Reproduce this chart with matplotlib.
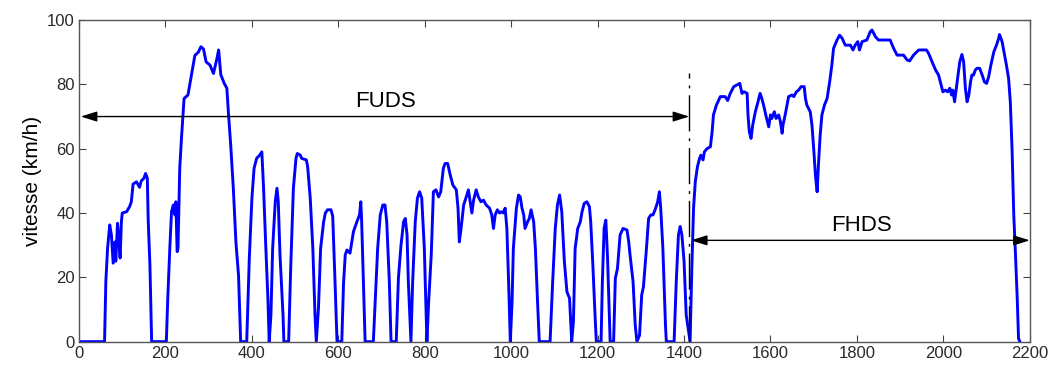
import matplotlib
matplotlib.use("Agg")
import matplotlib.pyplot as plt

plt.rcParams["font.family"] = ["Liberation Sans", "DejaVu Sans"]

# speed profile: time (s) and speed (km/h)
t_fuds = [0, 59, 62, 66, 71, 75, 79, 83, 85, 89, 92, 95, 98, 100, 110, 117, 121,
          125, 133, 140, 144, 150, 154, 158, 160, 164, 168, 202, 205, 210, 214,
          218, 222, 224, 227, 229, 233, 237, 243, 252, 256, 264, 268, 276, 282,
          288, 294, 303, 311, 319, 323, 328, 336, 342, 346, 351, 357, 363, 369,
          374, 388, 394, 400, 405, 411, 418, 423, 427, 432, 437, 440, 444, 448,
          454, 458, 461, 465, 472, 474, 485, 490, 496, 502, 505, 512, 515, 526,
          529, 535, 541, 546, 549, 554, 559, 566, 570, 575, 583, 587, 592, 597,
          608, 612, 616, 620, 627, 635, 643, 649, 652, 654, 658, 662, 681, 691,
          697, 703, 708, 712, 718, 722, 734, 739, 745, 751, 755, 759, 762, 768,
          772, 778, 783, 788, 793, 799, 805, 809, 815, 820, 826, 832, 837, 843,
          847, 853, 859, 865, 873, 877, 880, 884, 890, 896, 901, 905, 909, 913,
          919, 924, 930, 936, 942, 950, 955, 959, 963, 968, 973, 978, 982, 986,
          990, 994, 998, 1002, 1005, 1012, 1017, 1021, 1025, 1029, 1032, 1038,
          1042, 1046, 1052, 1056, 1061, 1065, 1090, 1096, 1102, 1107, 1112, 1117,
          1123, 1129, 1135, 1140, 1144, 1148, 1154, 1160, 1164, 1169, 1175, 1181,
          1184, 1189, 1194, 1197, 1208, 1211, 1215, 1219, 1223, 1227, 1229, 1237,
          1241, 1246, 1252, 1259, 1268, 1272, 1275, 1282, 1287, 1291, 1297, 1302,
          1306, 1313, 1318, 1323, 1328, 1333, 1339, 1343, 1346, 1351, 1357, 1359,
          1377, 1382, 1387, 1391, 1395, 1400, 1405, 1414]
v_fuds = [0, 0, 18.7, 29, 36.3, 33, 24.4, 31, 25, 36.8, 32, 26, 37.3, 40, 40.4,
          42, 43.5, 49, 49.7, 48, 50, 50.8, 52.3, 50.8, 38, 23.8, 0, 0, 12.4, 29,
          40.4, 42.5, 39.4, 43.5, 28, 29, 53.9, 63.2, 75.6, 76.7, 79.8, 86, 89,
          90, 91.7, 91, 87, 86, 83.4, 88, 90.7, 83, 80.3, 78.8, 70.5, 61, 47.7,
          31, 20.7, 0, 0, 26, 44.6, 53.9, 57, 58, 59, 47.7, 30, 13.5, 0, 8.3, 29,
          43.5, 47.7, 43.5, 27, 8.3, 0, 0, 23.8, 47.7, 57, 58.5, 58, 57, 56.5,
          54.4, 44.6, 29, 8.3, 0, 10.4, 29, 37.3, 40, 41, 41, 39, 20, 0, 0, 18,
          27, 28.5, 27.5, 34.2, 37.3, 39.4, 43.5, 37.3, 18.7, 0, 0, 29, 39.4,
          42.5, 42.5, 37.3, 18.7, 0, 0, 19.7, 30, 37.3, 38.3, 33.2, 18.7, 0,
          18.7, 37.3, 44.6, 46.6, 44.6, 29, 0, 12.4, 27, 46.6, 47.2, 45, 46.6,
          53.9, 55.4, 55.4, 51.8, 48.7, 47.2, 41.5, 31, 35.2, 42.5, 45, 47.2,
          43.5, 40, 44, 47.2, 45, 43.5, 44, 42.5, 41.5, 39.4, 35.2, 39.4, 41, 40,
          40.4, 40, 41.5, 35.2, 18.7, 0, 12.4, 29, 41.5, 45.6, 45, 41.5, 39.4,
          35.2, 37.3, 38.3, 41, 37.3, 29, 12.4, 0, 0, 18.7, 35.2, 42.5, 45.6,
          40.5, 25, 15.5, 13.5, 0, 6.2, 29, 35.2, 37.3, 40.4, 43, 43.5, 42, 37.3,
          23.8, 8.3, 0, 0, 18.7, 35.2, 37.8, 26, 8.3, 0, 0, 19.7, 22.8, 33.2,
          35.2, 34.7, 31, 27, 18.7, 5.2, 0, 2, 14.5, 17, 29, 38.3, 39.4, 39.4,
          41, 43.5, 46.6, 41.5, 29, 5.2, 0, 0, 18.7, 33.2, 35.8, 33.2, 25, 8.3, 0]

t_fhds = [1418, 1422, 1426, 1431, 1436, 1439, 1444, 1447, 1453, 1461, 1465, 1468,
          1475, 1484, 1495, 1501, 1507, 1515, 1522, 1529, 1534, 1539, 1546, 1548,
          1551, 1555, 1559, 1565, 1570, 1576, 1580, 1584, 1590, 1593, 1596, 1600,
          1603, 1609, 1613, 1619, 1623, 1627, 1629, 1634, 1642, 1650, 1654, 1660,
          1665, 1671, 1678, 1681, 1684, 1692, 1696, 1700, 1704, 1708, 1711, 1715,
          1719, 1725, 1731, 1737, 1742, 1746, 1754, 1760, 1766, 1773, 1785, 1791,
          1796, 1802, 1806, 1812, 1823, 1831, 1835, 1843, 1850, 1866, 1877, 1885,
          1893, 1908, 1916, 1922, 1931, 1943, 1961, 1966, 1974, 1982, 1989, 1995,
          1999, 2005, 2010, 2015, 2019, 2022, 2026, 2030, 2034, 2038, 2043, 2047,
          2051, 2055, 2059, 2063, 2066, 2070, 2074, 2078, 2084, 2090, 2095, 2100,
          2105, 2110, 2117, 2123, 2128, 2130, 2136, 2141, 2146, 2151, 2155, 2159,
          2163, 2167, 2171, 2174, 2177]
v_fhds = [22.8, 41.5, 49.7, 54.4, 57, 58, 56.5, 59, 60, 60.6, 65.3, 70.5, 73.6,
          76.2, 76.2, 75, 77.2, 79.3, 79.8, 80.3, 77.2, 77.7, 77.2, 70.5, 65.3,
          63.2, 67.4, 71.5, 74, 77.2, 75.6, 73.6, 70, 68.4, 66.8, 70.5, 69.4,
          71.5, 69.4, 70.5, 68.4, 64.8, 67.4, 70.5, 76.2, 76.7, 76.2, 77.7, 78.2,
          79.3, 79.3, 75.6, 73.6, 71.5, 67.4, 60, 51.8, 46.6, 55, 64.2, 70.5,
          73.6, 75.6, 80.8, 86, 91.2, 93.8, 95.3, 94.3, 92.2, 92.2, 90.7, 92.2,
          93.3, 90.7, 93.3, 93.8, 96.4, 96.9, 94.8, 93.8, 93.8, 93.8, 91.2, 89.1,
          89.1, 87.6, 87.3, 89.1, 90.7, 90.7, 89.6, 87, 84.5, 82.9, 79.8, 77.7,
          78.2, 77.7, 78.8, 76.7, 78.2, 74.6, 78.8, 82.9, 87, 89.3, 87, 78.8,
          74.6, 76.7, 80.8, 82.9, 82.9, 84.5, 85, 85, 82.9, 80.8, 80.3, 82.4, 86,
          90.2, 92.2, 94.3, 95.5, 93.3, 89.6, 86, 81.9, 74.6, 60, 39.4, 27, 13.5,
          1, 0]

cycle_split = 1412
x_ticks = [0, 200, 400, 600, 800, 1000, 1200, 1400, 1600, 1800, 2000, 2200]
y_ticks = [0, 20, 40, 60, 80, 100]

fig = plt.figure(figsize=(10.54, 3.65), dpi=100)
ax = fig.add_axes([0.075, 0.064, 0.902, 0.881])

ax.plot(t_fuds + t_fhds, v_fuds + v_fhds, color="#0000ff", lw=2.1,
        solid_joinstyle="round")

ax.plot([cycle_split, cycle_split], [0, 83.5], color="black", lw=1,
        ls=(0, (26, 5, 2, 5)))

arrow = dict(arrowstyle="<|-|>,head_length=0.7,head_width=0.22",
             color="black", lw=1, mutation_scale=14, shrinkA=0, shrinkB=0)
ax.annotate("", xy=(4, 70), xytext=(cycle_split, 70), arrowprops=arrow)
ax.annotate("", xy=(1416, 31.5), xytext=(2200, 31.5), arrowprops=arrow)
ax.text(708, 74.6, "FUDS", ha="center", va="center", fontsize=16)
ax.text(1810, 36.2, "FHDS", ha="center", va="center", fontsize=16)

ax.set_xlim(0, 2200)
ax.set_ylim(0, 100)
ax.set_xticks(x_ticks)
ax.set_yticks(y_ticks)
ax.tick_params(direction="in", length=5, width=0.8, top=True, right=True,
               labelsize=12, labelcolor="#2a2a2a", color="#444444", pad=3)
for s in ax.spines.values():
    s.set_color("#555555")
    s.set_linewidth(1)
ax.set_ylabel("vitesse (km/h)", fontsize=15, labelpad=4)

fig.savefig("out.png", dpi=100)
